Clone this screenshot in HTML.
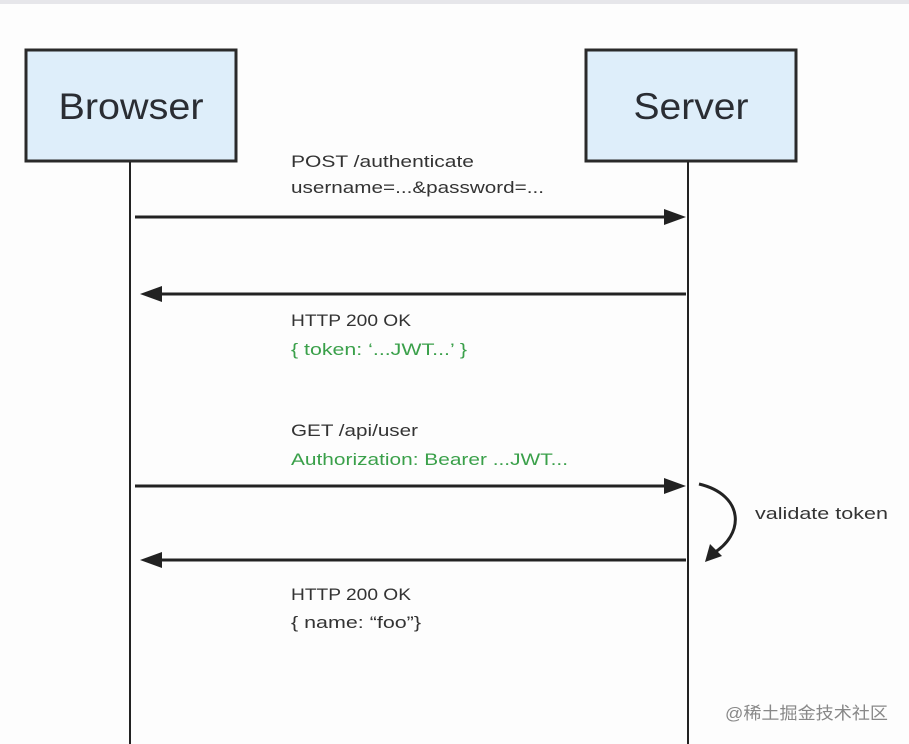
<!DOCTYPE html>
<html><head><style>
body{margin:0;background:#fdfdfd;}
svg{display:block}
text{font-family:"Liberation Sans",sans-serif;}
</style></head><body>
<svg width="909" height="744" xmlns="http://www.w3.org/2000/svg">
<rect width="909" height="744" fill="#fdfdfd"/>
<rect x="0" y="0" width="909" height="4" fill="#e6e6ea"/>
<rect x="26" y="50" width="210" height="111" fill="#deeefa" stroke="#2a2a2a" stroke-width="3"/>
<rect x="586" y="50" width="210" height="111" fill="#deeefa" stroke="#2a2a2a" stroke-width="3"/>
<text x="131" y="119" font-size="37" text-anchor="middle" fill="#2a2d33" textLength="145" lengthAdjust="spacingAndGlyphs">Browser</text>
<text x="691" y="119" font-size="37" text-anchor="middle" fill="#2a2d33" textLength="115" lengthAdjust="spacingAndGlyphs">Server</text>
<line x1="130" y1="162" x2="130" y2="744" stroke="#222" stroke-width="2"/>
<line x1="688" y1="162" x2="688" y2="744" stroke="#222" stroke-width="2"/>
<g stroke="#222" stroke-width="3">
<line x1="135" y1="217" x2="668" y2="217"/>
<line x1="160" y1="294" x2="686" y2="294"/>
<line x1="135" y1="486" x2="668" y2="486"/>
<line x1="160" y1="560" x2="686" y2="560"/>
</g>
<g fill="#222">
<polygon points="686,217 664,209 664,225"/>
<polygon points="140,294 162,286 162,302"/>
<polygon points="686,486 664,478 664,494"/>
<polygon points="140,560 162,552 162,568"/>
</g>
<path d="M699,484 C745,495 745,535 712,554" fill="none" stroke="#222" stroke-width="3"/>
<polygon points="705,562 710,544 722,556" fill="#222"/>
<g font-size="17" fill="#333">
<text x="291" y="167" textLength="183" lengthAdjust="spacingAndGlyphs">POST /authenticate</text>
<text x="291" y="193" textLength="253" lengthAdjust="spacingAndGlyphs">username=...&amp;password=...</text>
<text x="291" y="326" textLength="120" lengthAdjust="spacingAndGlyphs">HTTP 200 OK</text>
<text x="291" y="355" fill="#3aa04a" textLength="176" lengthAdjust="spacingAndGlyphs">{ token: ‘...JWT...’ }</text>
<text x="291" y="436" textLength="127" lengthAdjust="spacingAndGlyphs">GET /api/user</text>
<text x="291" y="465" fill="#3aa04a" textLength="277" lengthAdjust="spacingAndGlyphs">Authorization: Bearer ...JWT...</text>
<text x="755" y="519" textLength="133" lengthAdjust="spacingAndGlyphs">validate token</text>
<text x="291" y="600" textLength="120" lengthAdjust="spacingAndGlyphs">HTTP 200 OK</text>
<text x="291" y="628" textLength="130" lengthAdjust="spacingAndGlyphs">{ name: “foo”}</text>
</g>
<text x="725" y="719" font-size="17" fill="#888" style='font-family:"Liberation Sans","Noto Sans CJK SC",sans-serif' textLength="163" lengthAdjust="spacingAndGlyphs">@稀土掘金技术社区</text>
</svg>
</body></html>
